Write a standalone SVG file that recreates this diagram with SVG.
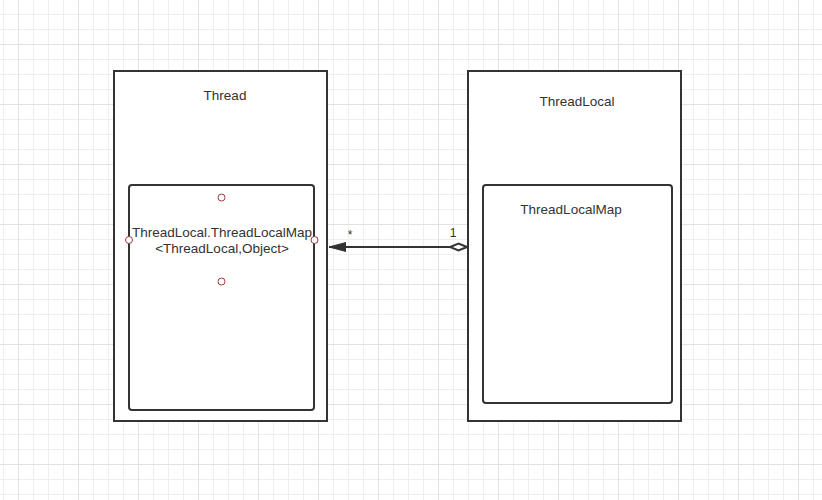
<svg xmlns="http://www.w3.org/2000/svg" width="822" height="500" viewBox="0 0 822 500">
<style>
.box{fill:#fff;stroke:#333;stroke-width:2}
.lbl{font-family:"Liberation Sans",Arial,sans-serif;font-size:13.5px;fill:#333;text-anchor:middle}
.mult{font-family:"Liberation Sans",Arial,sans-serif;font-size:12px;fill:#333;text-anchor:middle}
.pt{fill:#fff;stroke:#a0383c;stroke-width:1}
.edge{stroke:#333;stroke-width:2;fill:none}
</style>
<defs>
<pattern id="grid" patternUnits="userSpaceOnUse" x="18" y="44" width="60" height="60">
<rect x="0" y="0" width="60" height="60" fill="#fff"/>
<rect x="15" y="0" width="1" height="60" fill="#efefef"/>
<rect x="30" y="0" width="1" height="60" fill="#efefef"/>
<rect x="45" y="0" width="1" height="60" fill="#efefef"/>
<rect x="0" y="15" width="60" height="1" fill="#efefef"/>
<rect x="0" y="30" width="60" height="1" fill="#efefef"/>
<rect x="0" y="45" width="60" height="1" fill="#efefef"/>
<rect x="0" y="0" width="1" height="60" fill="#e2e2e2"/>
<rect x="0" y="0" width="60" height="1" fill="#e2e2e2"/>
</pattern>
<marker id="arrow" markerUnits="userSpaceOnUse" markerWidth="20" markerHeight="14" refX="17" refY="7" orient="auto" viewBox="0 0 20 14">
<path d="M17,7 L0,2.5 L0,11.5 Z" fill="#333" stroke="#333" stroke-width="1"/>
</marker>
<marker id="diamond" markerUnits="userSpaceOnUse" markerWidth="20" markerHeight="10" refX="1" refY="5" orient="auto" viewBox="0 0 20 10">
<path d="M1,5 L9.5,1.5 L18,5 L9.5,8.5 Z" fill="#fff" stroke="#333" stroke-width="2"/>
</marker>
</defs>
<rect x="0" y="0" width="822" height="500" fill="url(#grid)"/>

<g id="thread">
<rect class="box" x="114" y="71" width="213" height="350"/>
<text class="lbl" x="225" y="100">Thread</text>
</g>
<g id="threadlocalmap-field">
<rect class="box" x="129" y="185" width="185" height="225" rx="3"/>
<text class="lbl" x="222" y="237">ThreadLocal.ThreadLocalMap</text>
<text class="lbl" x="222" y="252.7">&lt;ThreadLocal,Object&gt;</text>
<circle class="pt" cx="221.5" cy="197.5" r="3.5"/>
<circle class="pt" cx="129" cy="240" r="3.5"/>
<circle class="pt" cx="314.5" cy="240" r="3.5"/>
<circle class="pt" cx="221.5" cy="281.5" r="3.5"/>
</g>
<g id="threadlocal">
<rect class="box" x="468" y="71" width="213" height="350"/>
<text class="lbl" x="577" y="106">ThreadLocal</text>
</g>
<g id="threadlocalmap">
<rect class="box" x="483" y="185" width="189" height="218" rx="3"/>
<text class="lbl" x="571" y="214">ThreadLocalMap</text>
</g>

<g id="connectors">
<path class="edge" d="M467,247 L329,247" marker-start="url(#diamond)" marker-end="url(#arrow)"/>
<text class="mult" x="350" y="239">*</text>
<text class="mult" x="453" y="237">1</text>
</g>
</svg>
